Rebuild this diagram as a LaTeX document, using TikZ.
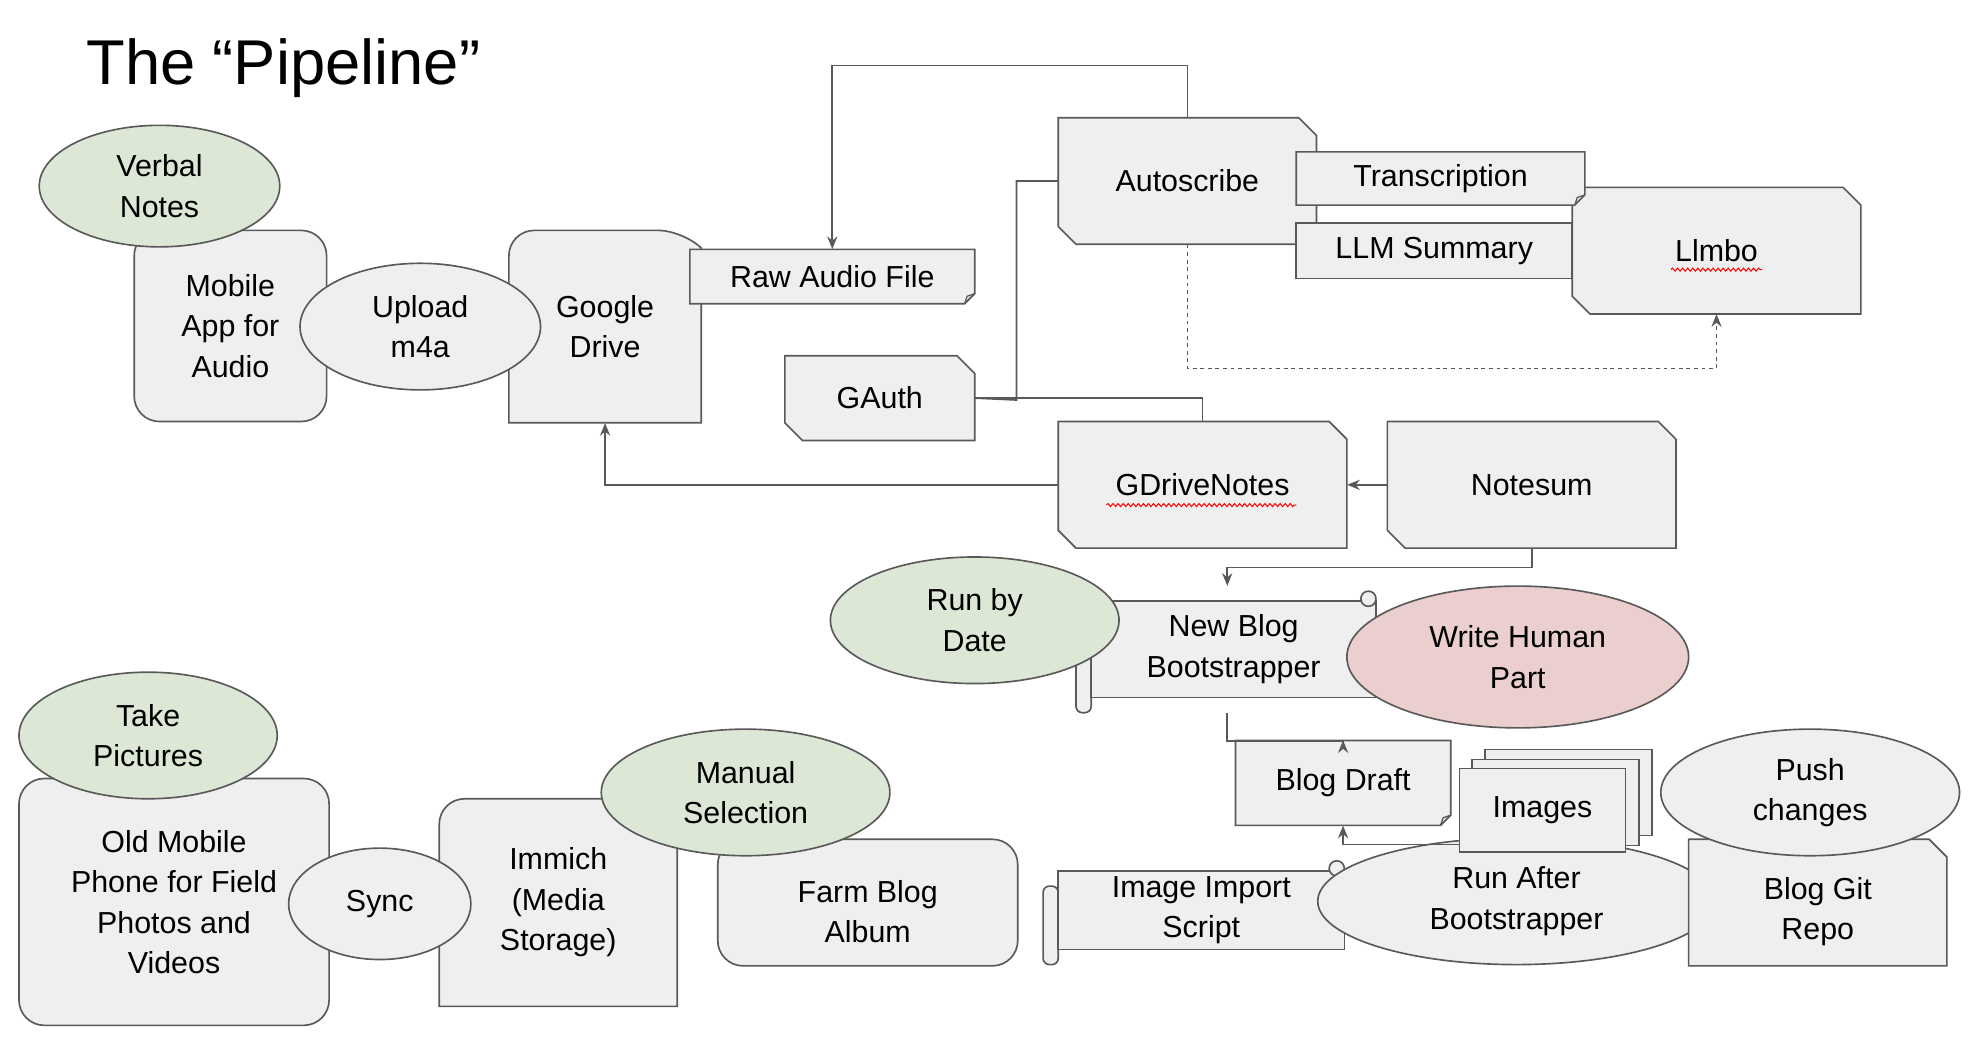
\documentclass[tikz,border=0pt]{standalone}
\usepackage{fontspec}
\setmainfont{Liberation Sans}
\usetikzlibrary{shapes.geometric,arrows.meta,decorations.pathmorphing}
\definecolor{lc}{HTML}{595959}
\definecolor{gf}{HTML}{EFEFEF}
\definecolor{gr}{HTML}{DCE8D5}
\definecolor{pk}{HTML}{EBCFCF}
\newcommand\fs{\fontsize{24}{32}\selectfont}
\tikzset{
 box/.style={draw=lc,fill=gf,line width=1.3pt},
 txt/.style={font=\fs,align=center,inner sep=0pt},
 ell/.style={ellipse,draw=lc,fill=gf,line width=1.3pt,font=\fs,align=center,inner sep=0pt},
 green/.style={fill=gr},
 conn/.style={draw=lc,line width=1.3pt},
 arr/.style={-{Stealth[length=10pt,width=8pt]}},
 wavy/.style={draw=red,line width=0.8pt,decorate,decoration={snake,amplitude=1.2pt,segment length=4pt}}
}
\newcommand\tnode[6]{\node[txt,minimum width=#4-#2,minimum height=#5-#3] (#1) at ({(#2+#4)/2},{(#3+#5)/2}) {#6};}
\newcommand\snipTwo[6]{\path[box] (#2,#3) -- (#4-14,#3) -- (#4,#3+14) -- (#4,#5) -- (#2+14,#5) -- (#2,#5-14) -- cycle;\tnode{#1}{#2}{#3}{#4}{#5}{#6}}
\newcommand\snipRound[6]{\path[box] (#4,#5) -- (#2,#5) [rounded corners=20pt]-- (#2,#3) -- (#4-14,#3) [sharp corners]-- (#4,#3+14) -- cycle;\tnode{#1}{#2}{#3}{#4}{#5}{#6}}
\newcommand\fold[6]{\path[box] (#2,#3) -- (#4,#3) -- (#4,#5-8) -- (#4-8,#5) -- (#2,#5) -- cycle;\draw[draw=lc,line width=1pt] (#4,#5-8) -- (#4-6,#5-6) -- (#4-8,#5);\tnode{#1}{#2}{#3}{#4}{#5}{#6}}
\newcommand\rbox[6]{\path[box,rounded corners=20pt] (#2,#3) rectangle (#4,#5);\tnode{#1}{#2}{#3}{#4}{#5}{#6}}
\newcommand\scroll[6]{\path[box,rounded corners=5pt] (#2,#3+24) rectangle (#2+12,#5);\path[box] (#2+12,#3+12) rectangle (#4,#5-12);\path[box] (#4-6,#3+10) circle (6);\tnode{#1}{#2+12}{#3+12}{#4}{#5-12}{#6}}
\begin{document}
\begin{tikzpicture}[x=1pt,y=-1pt]
\useasboundingbox (0,0) rectangle (1561,820);
\node[font=\fontsize{50}{60}\selectfont,anchor=west,inner sep=0pt] (title) at (68,54) {The “Pipeline”};
% top-left cluster
\rbox{mobile}{106}{182}{258}{333}{Mobile\\App for\\Audio}
\node[ell,green,minimum width=190,minimum height=96] (verbal) at (126,147) {Verbal\\Notes};
\snipRound{gdrive}{402}{182}{554}{334}{Google\\Drive}
\node[ell,minimum width=190,minimum height=100] (upload) at (332,258) {Upload\\m4a};
\fold{raw}{545}{197}{770}{240}{Raw Audio File}
\snipTwo{auto}{836}{93}{1040}{193}{Autoscribe}
\snipTwo{llmbo}{1242}{148}{1470}{248}{Llmbo}
\fold{trans}{1024}{120}{1252}{162}{Transcription}
\path[box] (1024,176) rectangle (1242,220); \tnode{llm}{1024}{176}{1242}{220}{LLM Summary}
\snipTwo{gauth}{620}{281}{770}{348}{GAuth}
\snipTwo{gdn}{836}{333}{1064}{433}{GDriveNotes}
\snipTwo{notesum}{1096}{333}{1324}{433}{Notesum}
\draw[wavy] (1320,213) -- (1392,213);
\draw[wavy] (874,399) -- (1024,399);
% middle
\scroll{nbb}{850}{463}{1087}{563}{New Blog\\Bootstrapper}
\node[ell,green,minimum width=228,minimum height=100] (rbd) at (770,490) {Run by\\Date};
\node[ell,fill=pk,minimum width=270,minimum height=112] (whp) at (1199,519) {Write Human\\Part};
\fold{draft}{976}{585}{1146}{652}{Blog Draft}
\scroll{iis}{824}{676}{1062}{762}{Image Import\\Script}
\node[ell,minimum width=314,minimum height=100] (rab) at (1198,712) {Run After\\Bootstrapper};
\path[box] (1173,592) rectangle (1305,660);
\path[box] (1163,600) rectangle (1295,668);
\path[box] (1153,607) rectangle (1284,673); \tnode{images}{1153}{607}{1284}{673}{Images}
\path[box] (1334,663) -- (1524,663) -- (1538,677) -- (1538,763) -- (1334,763) -- cycle; \tnode{git}{1334}{663}{1538}{763}{\\Blog Git\\Repo}
\node[ell,minimum width=236,minimum height=100] (push) at (1430,626) {Push\\changes};
% bottom-left
\rbox{old}{15}{615}{260}{810}{Old Mobile\\Phone for Field\\Photos and\\Videos}
\node[ell,green,minimum width=204,minimum height=100] (take) at (117,581) {Take\\Pictures};
\snipRound{immich}{347}{631}{535}{795}{Immich\\(Media\\Storage)}
\node[ell,minimum width=144,minimum height=88] (sync) at (300,714) {Sync};
\rbox{album}{567}{663}{804}{763}{\\Farm Blog\\Album}
\node[ell,green,minimum width=228,minimum height=100] (manual) at (589,626) {Manual\\Selection};
% connectors
\draw[conn,arr] (auto.north) -- ++(0,-41) -| (raw.north);
\draw[conn] (gauth.east) -- (803,316) |- (auto.west);
\draw[conn] (gauth.east) -| (gdn.north);
\draw[conn,dashed,arr] (auto.south) -- (938,291) -| (llmbo.south);
\draw[conn,arr] (gdn.west) -| (gdrive.south);
\draw[conn,arr] (notesum.west) -- (gdn.east);
\draw[conn,arr] (notesum.south) -- ++(0,15) -| ([xshift=-5pt]nbb.north);
\draw[conn,arr] ([xshift=-5pt]nbb.south) -- ++(0,22) -| (draft.north);
\draw[conn,arr] ([yshift=-27pt]images.west) -| (draft.south);
\end{tikzpicture}
\end{document}
